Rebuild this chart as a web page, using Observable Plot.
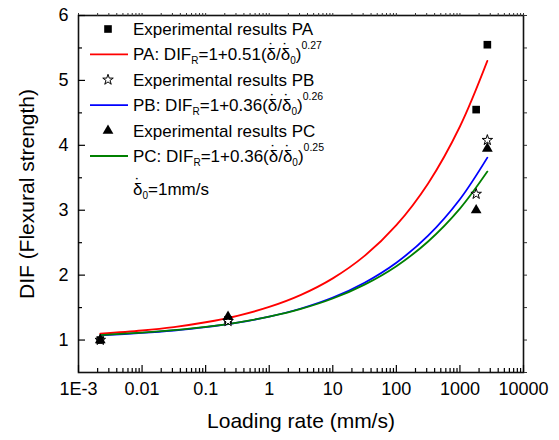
<!DOCTYPE html>
<html>
<head>
<meta charset="utf-8">
<script src="https://cdn.jsdelivr.net/npm/d3@7"></script>
<script src="https://cdn.jsdelivr.net/npm/@observablehq/plot@0.6"></script>
<style>
  body { margin: 0; background: #fff; font-family: "Liberation Sans", Arial, sans-serif; }
  #wrap { position: relative; width: 559px; height: 440px; }
  #legend { position: absolute; left: 0; top: 0; pointer-events: none; font-family: "Liberation Sans", Arial, sans-serif; }
</style>
</head>
<body>
<div id="wrap"></div>
<script>
// ---- data ----
const rates = [0.0022, 0.225, 1800, 2700];
const paDIF = [1.0, 1.31, 4.55, 5.55];
const pbDIF = [1.0, 1.29, 3.25, 4.08];
const pcDIF = [1.0, 1.36, 3.0, 3.95];

const fitRates = [0.0022, 0.01, 0.0316, 0.1, 0.316, 1, 3.16, 10, 31.6, 100, 316, 1000, 2700];
const paFit = [1.097, 1.147, 1.20, 1.274, 1.374, 1.51, 1.696, 1.95, 2.296, 2.77, 3.413, 4.29, 5.30];
const pbFit = [1.072, 1.109, 1.147, 1.198, 1.267, 1.36, 1.486, 1.655, 1.884, 2.192, 2.608, 3.169, 3.81];
const pcFit = [1.077, 1.114, 1.152, 1.202, 1.270, 1.36, 1.480, 1.640, 1.854, 2.138, 2.518, 3.024, 3.595];

const xTickValues = [0.001, 0.01, 0.1, 1, 10, 100, 1000, 10000];
const xTickLabels = ["1E-3", "0.01", "0.1", "1", "10", "100", "1000", "10000"];
const yTickValues = [1, 2, 3, 4, 5, 6];
const yMinorValues = [1.5, 2.5, 3.5, 4.5, 5.5];

const xTitle = "Loading rate (mm/s)";
const yTitle = "DIF (Flexural strength)";

// ---- derived tables ----
const pts = (ys) => rates.map((x, i) => ({x, y: ys[i]}));
const fit = (ys) => fitRates.map((x, i) => ({x, y: ys[i]}));
const xMinor = [];
for (let k = 0; k < xTickValues.length - 1; k++)
  for (let m = 2; m <= 9; m++) xMinor.push(xTickValues[k] * m);
const yAll = yTickValues.concat(yMinorValues, [0.5]);
const xAll = xTickValues.concat(xMinor);
const xLabel = (d) => xTickLabels[xTickValues.indexOf(d)];
const blank = () => "";

const chart = Plot.plot({
  width: 559,
  height: 440,
  marginLeft: 78,
  marginRight: 36,
  marginTop: 15,
  marginBottom: 68,
  style: {fontFamily: '"Liberation Sans", Arial, sans-serif', fontSize: "18px", color: "#000", background: "#fff"},
  x: {type: "log", domain: [0.001, 10000]},
  y: {type: "linear", domain: [0.5, 6]},
  marks: [
    Plot.frame({stroke: "#111", strokeWidth: 1.6}),
    // bottom ticks, pointing inward
    Plot.axisX(xTickValues, {anchor: "bottom", tickSize: 7, dy: -7, tickFormat: blank, label: null, stroke: "#000", strokeWidth: 1.2}),
    Plot.axisX(xMinor, {anchor: "bottom", tickSize: 4, dy: -4, tickFormat: blank, label: null, stroke: "#000", strokeWidth: 1.2}),
    Plot.axisX(xTickValues, {anchor: "bottom", tickSize: 0, tickPadding: 10, tickFormat: xLabel, label: null, fontSize: 18}),
    // top mirrored ticks
    Plot.axisX(xAll, {anchor: "top", tickSize: 3, tickFormat: blank, label: null, stroke: "#333"}),
    // left ticks, pointing inward
    Plot.axisY(yTickValues, {anchor: "left", tickSize: 7, dx: 7, tickFormat: blank, label: null, stroke: "#000", strokeWidth: 1.2}),
    Plot.axisY(yMinorValues, {anchor: "left", tickSize: 4, dx: 4, tickFormat: blank, label: null, stroke: "#000", strokeWidth: 1.2}),
    Plot.axisY(yTickValues, {anchor: "left", tickSize: 0, tickPadding: 10, tickFormat: (d) => String(d), label: null, fontSize: 18}),
    // right mirrored ticks
    Plot.axisY(yAll, {anchor: "right", tickSize: 3, tickFormat: blank, label: null, stroke: "#333"}),
    // axis titles
    Plot.text([xTitle], {frameAnchor: "bottom", dy: 49, lineAnchor: "middle", textAnchor: "middle", fontSize: 21, text: (d) => d}),
    Plot.text([yTitle], {frameAnchor: "left", dx: -51, rotate: -90, textAnchor: "middle", lineAnchor: "middle", fontSize: 21, text: (d) => d}),
    // fitted curves
    Plot.line(fit(paFit), {x: "x", y: "y", stroke: "#ff0000", strokeWidth: 1.8, curve: "catmull-rom"}),
    Plot.line(fit(pbFit), {x: "x", y: "y", stroke: "#0000ff", strokeWidth: 1.8, curve: "catmull-rom"}),
    Plot.line(fit(pcFit), {x: "x", y: "y", stroke: "#008000", strokeWidth: 1.8, curve: "catmull-rom"}),
    // experimental points
    Plot.dot(pts(paDIF), {x: "x", y: "y", symbol: "square", r: 4.3, fill: "#000", stroke: "none"}),
    Plot.dot(pts(pbDIF), {x: "x", y: "y", symbol: "star", r: 3.3, fill: "#fff", stroke: "#000", strokeWidth: 1}),
    Plot.dot(pts(pcDIF), {x: "x", y: "y", symbol: "triangle", r: 4, fill: "#000", stroke: "none"})
  ]
});

const wrap = document.getElementById("wrap");
wrap.appendChild(chart);

// ---- legend (SVG overlay inside the plot frame) ----
const FS = 17;
const seg = (t, o = {}) => ({t, ...o});
const DOT = {dx: -7.6, dy: -5};        // dot placed over the preceding δ
const formula = (name, a, b) => [
  seg(`${name}: DIF`), seg("R", {size: 10, dy: 4}), seg(`=1+${a}(δ`, {dy: -4}),
  seg("˙", DOT), seg("/δ", {dx: 1.9, dy: 5}), seg("˙", DOT),
  seg("0", {size: 10, dx: 1.9, dy: 9}), seg(")", {dy: -4}),
  seg(b, {size: 10.5, dy: -11})
];
const legendRows = [
  {kind: "square", segs: [seg("Experimental results PA")]},
  {kind: "line", color: "#ff0000", segs: formula("PA", "0.51", "0.27")},
  {kind: "star", segs: [seg("Experimental results PB")]},
  {kind: "line", color: "#0000ff", segs: formula("PB", "0.36", "0.26")},
  {kind: "triangle", segs: [seg("Experimental results PC")]},
  {kind: "line", color: "#008000", segs: formula("PC", "0.36", "0.25")},
  {kind: "none", segs: [seg("δ"), seg("˙", DOT), seg("0", {size: 10, dx: 1.9, dy: 9}), seg("=1mm/s", {dy: -4})], gap: 8}
];
const symbols = {square: [d3.symbolSquare, 4.3, "#000", "none"], star: [d3.symbolStar, 3.3, "#fff", "#000"], triangle: [d3.symbolTriangle, 4, "#000", "none"]};
let baseline = 35;
let svg = "";
for (const r of legendRows) {
  baseline += r.gap || 0;
  const cy = baseline - 6;
  if (r.kind === "line") {
    svg += `<line x1="90" x2="128" y1="${cy}" y2="${cy}" stroke="${r.color}" stroke-width="1.8"/>`;
  } else if (r.kind !== "none") {
    const [sym, rr, fill, stroke] = symbols[r.kind];
    const path = d3.symbol(sym, Math.PI * rr * rr)();
    svg += `<path transform="translate(108,${cy})" d="${path}" fill="${fill}" stroke="${stroke}"/>`;
  }
  const spans = r.segs.map((s) =>
    `<tspan font-size="${s.size || FS}" dx="${s.dx || 0}" dy="${s.dy || 0}">${s.t}</tspan>`).join("");
  svg += `<text x="133" y="${baseline}" fill="#000" style="white-space:pre">${spans}</text>`;
  baseline += 25.4;
}
const legend = document.createElement("div");
legend.id = "legend";
legend.innerHTML = `<svg width="559" height="440" xmlns="http://www.w3.org/2000/svg">${svg}</svg>`;
wrap.appendChild(legend);
</script>
</body>
</html>
